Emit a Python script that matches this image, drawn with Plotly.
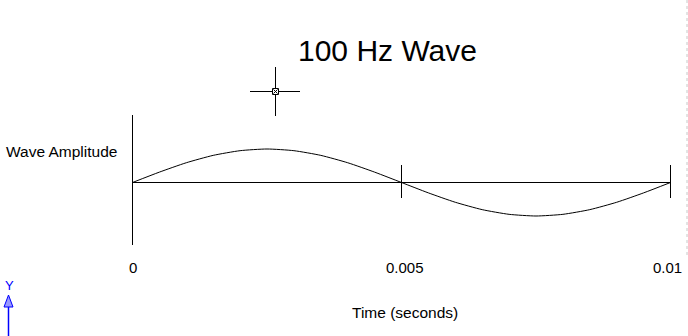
import plotly.graph_objects as go

# ---- data ----
title_text = "100 Hz Wave"
x_label = "Time (seconds)"
y_label = "Wave Amplitude"
tick_values = [0, 0.005, 0.01]
tick_labels = ["0", "0.005", "0.01"]
time_s = [0, 0.0005, 0.001, 0.0015, 0.002, 0.0025, 0.003, 0.0035, 0.004, 0.0045, 0.005,
          0.0055, 0.006, 0.0065, 0.007, 0.0075, 0.008, 0.0085, 0.009, 0.0095, 0.01]
amplitude = [0, 0.31, 0.59, 0.81, 0.95, 1.0, 0.95, 0.81, 0.59, 0.31, 0,
             -0.31, -0.59, -0.81, -0.95, -1.0, -0.95, -0.81, -0.59, -0.31, 0]

W, H = 688, 336
# pixel mapping (layout)
X0PX, X1PX = 132.5, 670.5   # t=0 and t=0.01
Y0PX, AMP_PX = 182.5, 33.5  # zero line and amplitude
sx = 0.01 / (X1PX - X0PX)
xr = [-X0PX * sx, (W - X0PX) * sx]
yr = [-(H - Y0PX) / AMP_PX, Y0PX / AMP_PX]

def py2d(p):
    return (Y0PX - p) / AMP_PX

def px(p):
    return p / W

def py(p):
    return 1 - p / H

fig = go.Figure()
fig.add_trace(go.Scatter(x=time_s, y=amplitude, mode="lines",
                         line=dict(color="black", width=1, shape="spline", smoothing=0.6),
                         hoverinfo="skip"))

shapes = []
# zero line
shapes.append(dict(type="line", xref="x", yref="y", x0=tick_values[0], x1=tick_values[-1],
                   y0=0, y1=0, line=dict(color="black", width=1)))
# vertical y axis
shapes.append(dict(type="line", xref="x", yref="y", x0=tick_values[0], x1=tick_values[0],
                   y0=py2d(115), y1=py2d(245), line=dict(color="black", width=1)))
# tick marks
for tv in tick_values[1:]:
    shapes.append(dict(type="line", xref="x", yref="y", x0=tv, x1=tv,
                       y0=py2d(165), y1=py2d(198), line=dict(color="black", width=1)))
# crosshair cursor
cx, cy = 275.5, 91.5
shapes.append(dict(type="line", xref="paper", yref="paper", x0=px(cx), x1=px(cx),
                   y0=py(67), y1=py(116), line=dict(color="black", width=1)))
shapes.append(dict(type="line", xref="paper", yref="paper", x0=px(250), x1=px(300),
                   y0=py(cy), y1=py(cy), line=dict(color="black", width=1)))
shapes.append(dict(type="rect", xref="paper", yref="paper", x0=px(cx - 3), x1=px(cx + 3),
                   y0=py(cy + 3), y1=py(cy - 3), line=dict(color="black", width=1),
                   fillcolor="white"))
shapes.append(dict(type="line", xref="paper", yref="paper", x0=px(cx - 2), x1=px(cx + 2),
                   y0=py(cy - 2), y1=py(cy + 2), line=dict(color="black", width=1)))
shapes.append(dict(type="line", xref="paper", yref="paper", x0=px(cx - 2), x1=px(cx + 2),
                   y0=py(cy + 2), y1=py(cy - 2), line=dict(color="black", width=1)))
# UCS icon (blue Y arrow)
shapes.append(dict(type="line", xref="paper", yref="paper", x0=px(8.5), x1=px(8.5),
                   y0=py(306), y1=py(336), line=dict(color="blue", width=1.5)))
shapes.append(dict(type="path", xref="paper", yref="paper",
                   path=f"M {px(4)} {py(307)} L {px(13)} {py(307)} L {px(8.5)} {py(295)} Z",
                   line=dict(color="blue", width=1), fillcolor="#9999ff"))
# right edge gray line
shapes.append(dict(type="line", xref="paper", yref="paper", x0=px(687), x1=px(687),
                   y0=py(0), y1=py(255), line=dict(color="#c8c8c8", width=1, dash="dot")))

font = "Arial, Liberation Sans, sans-serif"
ann = []
ann.append(dict(text=title_text, xref="paper", yref="paper", x=px(387), y=py(50),
                showarrow=False, font=dict(family=font, size=30, color="black"),
                xanchor="center", yanchor="middle"))
ann.append(dict(text=y_label, xref="paper", yref="paper", x=px(4), y=py(152),
                showarrow=False, font=dict(family=font, size=15.5, color="black"),
                xanchor="left", yanchor="middle"))
ann.append(dict(text=x_label, xref="paper", yref="paper", x=px(405), y=py(312),
                showarrow=False, font=dict(family=font, size=15.5, color="black"),
                xanchor="center", yanchor="middle"))
label_x_px = [133, 405, 667]
for tv, tl, lx in zip(tick_values, tick_labels, label_x_px):
    ann.append(dict(text=tl, xref="paper", yref="paper", x=px(lx), y=py(267),
                    showarrow=False, font=dict(family=font, size=15, color="black"),
                    xanchor="center", yanchor="middle"))
ann.append(dict(text="Y", xref="paper", yref="paper", x=px(9), y=py(285),
                showarrow=False, font=dict(family=font, size=13, color="blue"),
                xanchor="center", yanchor="middle"))

fig.update_layout(
    width=W, height=H, margin=dict(l=0, r=0, t=0, b=0),
    paper_bgcolor="white", plot_bgcolor="white", showlegend=False,
    xaxis=dict(range=xr, visible=False, fixedrange=True),
    yaxis=dict(range=yr, visible=False, fixedrange=True),
    shapes=shapes, annotations=ann,
)
fig.write_html("out.html")
